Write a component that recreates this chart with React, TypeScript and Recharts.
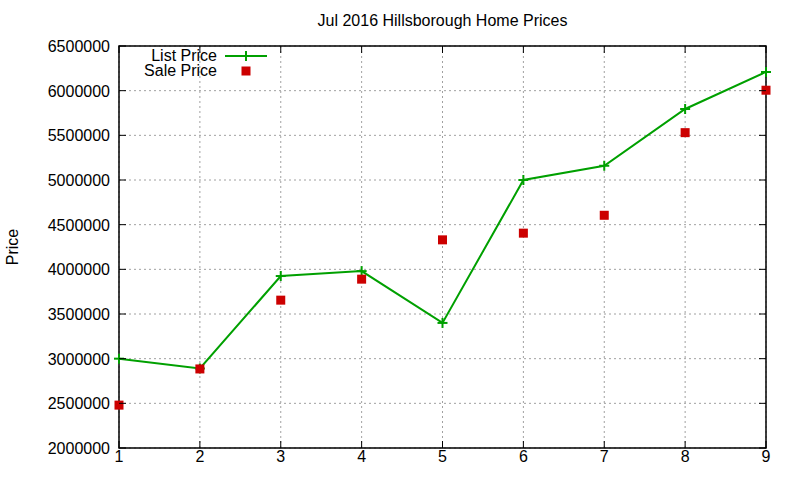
import React from "react";
import {
  ComposedChart,
  Line,
  Scatter,
  XAxis,
  YAxis,
  CartesianGrid,
  ReferenceArea,
} from "recharts";

const months = [1, 2, 3, 4, 5, 6, 7, 8, 9];
const listPrice = [3000000, 2890000, 3925000, 3980000, 3400000, 5000000, 5160000, 5795000, 6210000];
const salePrice = [2480000, 2885000, 3655000, 3890000, 4330000, 4405000, 4605000, 5530000, 6005000];
const yTicks = [2000000, 2500000, 3000000, 3500000, 4000000, 4500000, 5000000, 5500000, 6000000, 6500000];

const GREEN = "#00a000";
const RED = "#cc0000";
const FONT = "'Liberation Sans', Arial, sans-serif";

const W = 800;
const H = 480;
const M = { top: 46, right: 34, bottom: 0, left: 0 };
const Y_W = 119;
const X_H = 32;
const PLOT_L = M.left + Y_W;
const PLOT_R = W - M.right;
const PLOT_T = M.top;
const PLOT_B = H - M.bottom - X_H;

const data = months.map((m, i) => ({ month: m, list: listPrice[i], sale: salePrice[i] }));

const YTick = ({ x, y, payload }: any) => (
  <g>
    <line x1={PLOT_L} x2={PLOT_L + 7} y1={y} y2={y} stroke="#000" />
    <line x1={PLOT_R - 7} x2={PLOT_R} y1={y} y2={y} stroke="#000" />
    <text x={x} y={y} dy={6} textAnchor="end" fontSize={16} fontFamily={FONT} fill="#000">
      {payload.value}
    </text>
  </g>
);

const XTick = ({ x, y, payload }: any) => (
  <g>
    <line x1={x} x2={x} y1={PLOT_B} y2={PLOT_B - 7} stroke="#000" />
    <line x1={x} x2={x} y1={PLOT_T} y2={PLOT_T + 7} stroke="#000" />
    <text x={x} y={y} dy={12} textAnchor="middle" fontSize={16} fontFamily={FONT} fill="#000">
      {payload.value}
    </text>
  </g>
);

const PlusDot = ({ cx, cy }: any) => (
  <g>
    <line x1={cx - 5} x2={cx + 5} y1={cy} y2={cy} stroke={GREEN} strokeWidth={2} />
    <line x1={cx} x2={cx} y1={cy - 5} y2={cy + 5} stroke={GREEN} strokeWidth={2} />
  </g>
);

const Square = ({ cx, cy }: any) => (
  <rect x={cx - 4.5} y={cy - 4.5} width={9} height={9} fill={RED} />
);

export default function App() {
  return (
    <div style={{ position: "absolute", left: 0, top: 0, width: W, height: H, background: "#fff" }}>
      <ComposedChart width={W} height={H} data={data} margin={M}>
        <text x={(PLOT_L + PLOT_R) / 2} y={26} textAnchor="middle" fontSize={16} fontFamily={FONT} fill="#000">
          Jul 2016 Hillsborough Home Prices
        </text>
        <text
          x={18}
          y={(PLOT_T + PLOT_B) / 2}
          transform={`rotate(-90 18 ${(PLOT_T + PLOT_B) / 2})`}
          textAnchor="middle"
          fontSize={16}
          fontFamily={FONT}
          fill="#000"
        >
          Price
        </text>
        <CartesianGrid stroke="#a0a0a0" strokeDasharray="2 3" />
        <XAxis
          dataKey="month"
          type="number"
          domain={[1, 9]}
          ticks={months}
          height={X_H}
          tickLine={false}
          tickSize={0}
          tickMargin={2}
          axisLine={false}
          tick={<XTick />}
          interval={0}
        />
        <YAxis
          type="number"
          domain={[2000000, 6500000]}
          ticks={yTicks}
          width={Y_W}
          tickLine={false}
          tickSize={0}
          tickMargin={9}
          axisLine={false}
          tick={<YTick />}
          interval={0}
          allowDataOverflow
        />
        <ReferenceArea
          x1={1}
          x2={9}
          y1={2000000}
          y2={6500000}
          fill="none"
          stroke="#000"
          strokeWidth={1.5}
          ifOverflow="visible"
        />
        <Line
          dataKey="list"
          stroke={GREEN}
          strokeWidth={2}
          type="linear"
          dot={<PlusDot />}
          isAnimationActive={false}
        />
        <Scatter dataKey="sale" fill={RED} shape={<Square />} isAnimationActive={false} />
        <g>
          <text x={217} y={61} textAnchor="end" fontSize={16} fontFamily={FONT} fill="#000">
            List Price
          </text>
          <line x1={225} x2={267} y1={56} y2={56} stroke={GREEN} strokeWidth={2} />
          <PlusDot cx={246} cy={56} />
          <text x={217} y={76} textAnchor="end" fontSize={16} fontFamily={FONT} fill="#000">
            Sale Price
          </text>
          <Square cx={246} cy={71} />
        </g>
      </ComposedChart>
    </div>
  );
}
